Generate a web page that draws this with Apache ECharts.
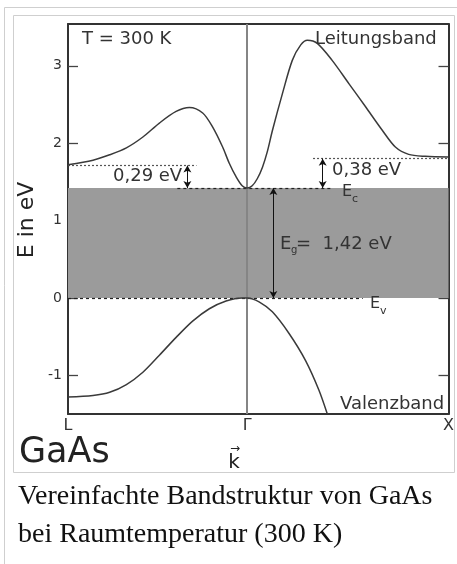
<!DOCTYPE html>
<html>
<head>
<meta charset="utf-8">
<script src="https://cdn.jsdelivr.net/npm/echarts@6/dist/echarts.min.js"></script>
<style>
html,body{margin:0;padding:0;background:#fff;}
#c{width:457px;height:564px;}
</style>
</head>
<body>
<div id="c"></div>
<script>
// k in units of 2π/a (Γ = 0, X = 1, L on the left), energies in eV
var kConduction = [-0.89, -0.766, -0.683, -0.600, -0.518, -0.436, -0.353, -0.287, -0.221, -0.172, -0.122, -0.089, -0.056, -0.025, 0, 0.025, 0.05, 0.076, 0.1, 0.125, 0.175, 0.224, 0.266, 0.299, 0.348, 0.422, 0.505, 0.588, 0.670, 0.736, 0.802, 0.885, 1.0];
var eConduction = [1.72, 1.78, 1.85, 1.94, 2.08, 2.26, 2.41, 2.46, 2.39, 2.21, 1.95, 1.74, 1.57, 1.45, 1.42, 1.45, 1.54, 1.69, 1.89, 2.16, 2.64, 3.07, 3.27, 3.33, 3.29, 3.07, 2.77, 2.47, 2.17, 1.95, 1.855, 1.83, 1.82];
var kValence = [-0.89, -0.766, -0.683, -0.600, -0.518, -0.436, -0.353, -0.271, -0.188, -0.105, -0.025, 0, 0.059, 0.125, 0.208, 0.290, 0.356, 0.398];
var eValence = [-1.28, -1.26, -1.22, -1.12, -0.96, -0.74, -0.51, -0.30, -0.14, -0.04, 0, 0, -0.05, -0.18, -0.46, -0.81, -1.19, -1.50];

var kPoints = [-0.89, 0, 1];
var kPointLabels = ['L', 'Γ', 'X'];
var yTicks = [-1, 0, 1, 2, 3];

var Ec = 1.42, Ev = 0;
var gapL = 0.29, gapX = 0.38;
var kArrowL = -0.297, kArrowX = 0.375, kArrowG = 0.13;

function pairs(xs, ys) { return xs.map(function (x, i) { return [x, ys[i]]; }); }

var chart = echarts.init(document.getElementById('c'), null, {renderer: 'canvas'});
var font = 'DejaVu Sans';
var txt = '#333';

function seg(a, b, style, sym) {
  return {
    type: 'line', data: [], z: 4, silent: true,
    markLine: {
      silent: true, animation: false,
      symbol: sym || ['none', 'none'], symbolSize: [6, 7],
      label: {show: false},
      lineStyle: style,
      emphasis: {disabled: true},
      data: [[{coord: a}, {coord: b}]]
    }
  };
}

var option = {
  animation: false,
  backgroundColor: '#fff',
  grid: {left: 68, right: 7, top: 24, bottom: 150, containLabel: false},
  xAxis: [{
    type: 'value', min: -0.89, max: 1, position: 'bottom',
    axisLine: {show: true, onZero: false, lineStyle: {color: '#333', width: 2}},
    axisTick: {show: false},
    splitLine: {show: false},
    axisLabel: {
      customValues: kPoints, margin: 4, fontFamily: font, fontSize: 16, color: txt,
      formatter: function (v) { var i = kPoints.indexOf(v); return i >= 0 ? kPointLabels[i] : ''; }
    }
  }, {
    type: 'value', min: -0.89, max: 1, position: 'top',
    axisLine: {show: true, onZero: false, lineStyle: {color: '#333', width: 2}},
    axisTick: {show: false}, axisLabel: {show: false}, splitLine: {show: false}
  }],
  yAxis: [{
    type: 'value', min: -1.5, max: 3.54, position: 'left',
    axisLine: {show: true, onZero: false, lineStyle: {color: '#333', width: 2}},
    axisTick: {show: true, inside: true, length: 10, customValues: yTicks, lineStyle: {color: '#444', width: 1.3}},
    axisLabel: {customValues: yTicks, margin: 6, fontFamily: font, fontSize: 14, color: txt},
    splitLine: {show: false}
  }, {
    type: 'value', min: -1.5, max: 3.54, position: 'right',
    axisLine: {show: true, onZero: false, lineStyle: {color: '#333', width: 2}},
    axisTick: {show: true, inside: true, length: 10, customValues: yTicks, lineStyle: {color: '#444', width: 1.3}},
    axisLabel: {show: false},
    splitLine: {show: false}
  }],
  series: [
    { // band gap shading
      type: 'line', data: [], z: 1, silent: true,
      markArea: {
        silent: true,
        itemStyle: {color: '#9b9b9b', opacity: 1},
        emphasis: {disabled: true},
        data: [[{yAxis: Ev}, {yAxis: Ec}]]
      }
    },
    { // Γ vertical line
      type: 'line', data: [], z: 2, silent: true,
      markLine: {
        silent: true, symbol: ['none', 'none'], label: {show: false},
        lineStyle: {color: '#858585', width: 2, type: 'solid'},
        emphasis: {disabled: true},
        data: [{xAxis: 0}]
      }
    },
    seg([-0.347, Ec], [0.426, Ec], {color: '#222', width: 1.2, type: [3, 3]}),
    seg([-0.89, Ev], [0.574, Ev], {color: '#222', width: 1.2, type: [3, 3]}),
    seg([-0.89, Ec + gapL], [-0.252, Ec + gapL], {color: '#555', width: 1.2, type: [2, 2]}),
    seg([0.327, Ec + gapX], [1, Ec + gapX], {color: '#555', width: 1.2, type: [2, 2]}),
    seg([kArrowL, Ec], [kArrowL, Ec + gapL], {color: '#111', width: 1, type: 'solid'}, ['arrow', 'arrow']),
    seg([kArrowX, Ec], [kArrowX, Ec + gapX], {color: '#111', width: 1, type: 'solid'}, ['arrow', 'arrow']),
    seg([kArrowG, Ev], [kArrowG, Ec], {color: '#111', width: 1, type: 'solid'}, ['arrow', 'arrow']),
    {
      name: 'Leitungsband', type: 'line', z: 5, smooth: 0.3, showSymbol: false, silent: true,
      lineStyle: {color: '#3a3a3a', width: 1.5},
      data: pairs(kConduction, eConduction)
    },
    {
      name: 'Valenzband', type: 'line', z: 5, smooth: 0.3, showSymbol: false, silent: true,
      lineStyle: {color: '#3a3a3a', width: 1.5},
      data: pairs(kValence, eValence)
    }
  ],
  graphic: [
    {type: 'line', shape: {x1: 4.5, y1: 7.5, x2: 457, y2: 7.5}, style: {stroke: '#cfcfcf', lineWidth: 1}, silent: true},
    {type: 'line', shape: {x1: 4.5, y1: 7.5, x2: 4.5, y2: 564}, style: {stroke: '#cfcfcf', lineWidth: 1}, silent: true},
    {type: 'rect', shape: {x: 13.5, y: 15.5, width: 441, height: 457}, style: {fill: 'none', stroke: '#cfcfcf', lineWidth: 1}, silent: true, z: -1},
    {type: 'text', x: 82, y: 39, style: {text: 'T = 300 K', font: '18px "DejaVu Sans"', fill: txt, verticalAlign: 'middle'}, z: 10},
    {type: 'text', x: 315, y: 39, style: {text: 'Leitungsband', font: '18px "DejaVu Sans"', fill: txt, verticalAlign: 'middle'}, z: 10},
    {type: 'text', x: 340, y: 404, style: {text: 'Valenzband', font: '18px "DejaVu Sans"', fill: txt, verticalAlign: 'middle'}, z: 10},
    {type: 'text', x: 113, y: 176.5, style: {text: '0,29 eV', font: '18px "DejaVu Sans"', fill: txt, verticalAlign: 'middle'}, z: 10},
    {type: 'text', x: 332, y: 170, style: {text: '0,38 eV', font: '18px "DejaVu Sans"', fill: txt, verticalAlign: 'middle'}, z: 10},
    {type: 'text', x: 342, y: 191.5, style: {text: 'E', font: '16px "DejaVu Sans"', fill: txt, verticalAlign: 'middle'}, z: 10},
    {type: 'text', x: 352, y: 199, style: {text: 'c', font: '11px "DejaVu Sans"', fill: txt, verticalAlign: 'middle'}, z: 10},
    {type: 'text', x: 370, y: 303.5, style: {text: 'E', font: '16px "DejaVu Sans"', fill: txt, verticalAlign: 'middle'}, z: 10},
    {type: 'text', x: 380, y: 311, style: {text: 'v', font: '11px "DejaVu Sans"', fill: txt, verticalAlign: 'middle'}, z: 10},
    {type: 'text', x: 280, y: 244.5, style: {text: 'E', font: '18px "DejaVu Sans"', fill: txt, verticalAlign: 'middle'}, z: 10},
    {type: 'text', x: 291, y: 250, style: {text: 'g', font: '10px "DejaVu Sans"', fill: txt, verticalAlign: 'middle'}, z: 10},
    {type: 'text', x: 296, y: 244.5, style: {text: '=  1,42 eV', font: '18px "DejaVu Sans"', fill: txt, verticalAlign: 'middle'}, z: 10},
    {type: 'text', x: 27, y: 220, rotation: Math.PI / 2, style: {text: 'E in eV', font: '22px "DejaVu Sans"', fill: '#222', align: 'center', verticalAlign: 'middle'}, z: 10},
    {type: 'text', x: 19, y: 452.5, style: {text: 'GaAs', font: '35px "DejaVu Sans"', fill: '#222', verticalAlign: 'middle'}, z: 10},
    {type: 'text', x: 234, y: 463, style: {text: 'k', font: '20px "DejaVu Sans"', fill: '#222', align: 'center', verticalAlign: 'middle'}, z: 10},
    {type: 'text', x: 235, y: 449, style: {text: '→', font: '12px "DejaVu Sans"', fill: '#222', align: 'center', verticalAlign: 'middle'}, z: 10},
    {type: 'text', x: 18, y: 497, style: {text: 'Vereinfachte Bandstruktur von GaAs', font: '28px "Liberation Serif"', fill: '#111', verticalAlign: 'middle'}, z: 10},
    {type: 'text', x: 18, y: 535, style: {text: 'bei Raumtemperatur (300 K)', font: '28px "Liberation Serif"', fill: '#111', verticalAlign: 'middle'}, z: 10}
  ]
};
chart.setOption(option);
</script>
</body>
</html>
